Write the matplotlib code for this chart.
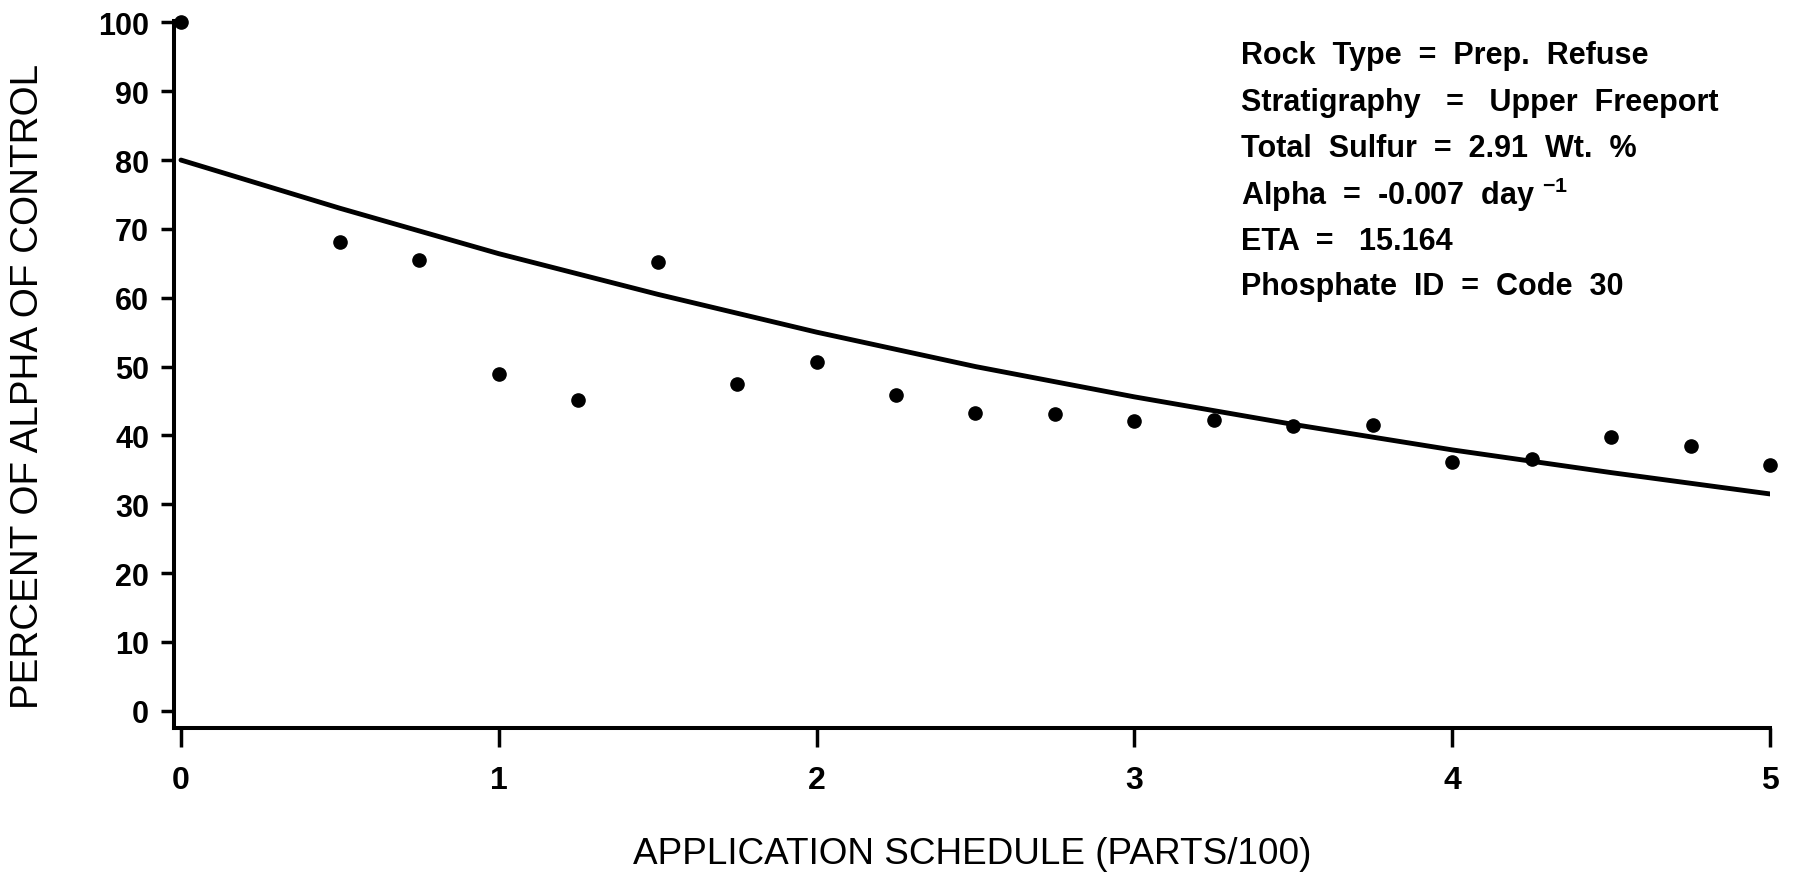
import matplotlib
matplotlib.use("Agg")
import matplotlib.pyplot as plt

# Datos medidos: porcentaje de alfa respecto al control
schedule = [0, 0.5, 0.75, 1.0, 1.25, 1.5, 1.75, 2.0, 2.25, 2.5,
            2.75, 3.0, 3.25, 3.5, 3.75, 4.0, 4.25, 4.5, 4.75, 5.0]
percent_alpha = [100, 68.1, 65.5, 48.9, 45.1, 65.2, 47.5, 50.6, 45.8, 43.2,
                 43.1, 42.1, 42.3, 41.3, 41.5, 36.2, 36.6, 39.8, 38.4, 35.7]

# Curva ajustada
fit_x = [0, 0.5, 1.0, 1.5, 2.0, 2.5, 3.0, 3.5, 4.0, 4.5, 5.0]
fit_y = [80.0, 73.0, 66.4, 60.5, 55.0, 50.0, 45.6, 41.6, 37.9, 34.6, 31.5]

x_ticks = [0, 1, 2, 3, 4, 5]
y_ticks = [0, 10, 20, 30, 40, 50, 60, 70, 80, 90, 100]

info_lines = [
    "Rock  Type  =  Prep.  Refuse",
    "Stratigraphy   =   Upper  Freeport",
    "Total  Sulfur  =  2.91  Wt.  %",
    "Alpha  =  -0.007  day $^{-1}$",
    "ETA  =   15.164",
    "Phosphate  ID  =  Code  30",
]

plt.rcParams['font.family'] = ['Liberation Sans', 'DejaVu Sans']
plt.rcParams['mathtext.default'] = 'regular'

W, H = 1797, 879
fig = plt.figure(figsize=(W / 100, H / 100), dpi=100)
fig.patch.set_facecolor('white')

left, right, bottom, top = 174, 1770, 729, 22
ax = fig.add_axes([left / W, 1 - bottom / H, (right - left) / W, (bottom - top) / H])

ax.plot(fit_x, fit_y, color='black', linewidth=3.5, solid_capstyle='round', zorder=2)
ax.plot(schedule, percent_alpha, 'o', color='black', markersize=9.5,
        clip_on=False, zorder=3)

ax.set_xlim(-0.022, 5.0)
ax.set_ylim(-2.5, 100.2)
ax.set_xticks(x_ticks)
ax.set_yticks(y_ticks)

for side in ('top', 'right'):
    ax.spines[side].set_visible(False)
for side in ('left', 'bottom'):
    ax.spines[side].set_linewidth(2.9)

ax.tick_params(axis='y', direction='out', length=9.5, width=2.5, pad=8.5, labelsize=22)
ax.tick_params(axis='x', direction='out', length=14, width=2.5, pad=12.5, labelsize=23)
for lbl in ax.get_xticklabels() + ax.get_yticklabels():
    lbl.set_fontweight('bold')

ax.set_xlabel('APPLICATION SCHEDULE (PARTS/100)', fontsize=26.6)
ax.xaxis.label.set_va('center')
ax.xaxis.set_label_coords(0.5, -0.178)

ax.set_ylabel('PERCENT OF ALPHA OF CONTROL', fontsize=27.8)
ax.yaxis.label.set_va('center')
ax.yaxis.set_label_coords(-0.0915, 0.485)

# Bloque de parámetros en la esquina superior derecha
line_y = [56, 103, 149, 195, 242, 287]
for txt, yp in zip(info_lines, line_y):
    fig.text(1241 / W, 1 - yp / H, txt, fontsize=22, fontweight='bold',
             ha='left', va='center')

fig.savefig('out.png', dpi=100, facecolor='white')
